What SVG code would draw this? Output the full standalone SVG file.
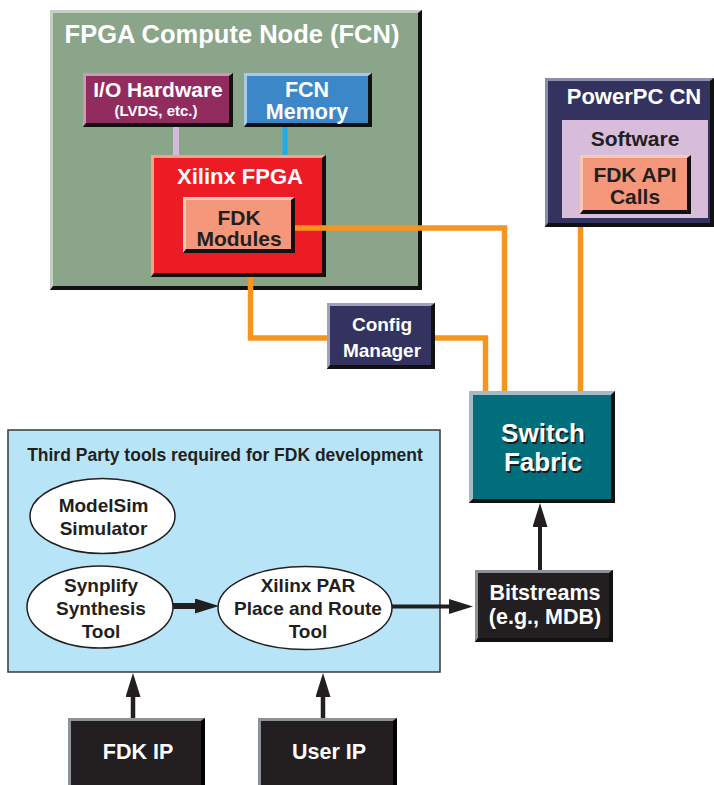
<svg xmlns="http://www.w3.org/2000/svg" width="714" height="785" viewBox="0 0 714 785">
<defs>
<style>
text{font-family:"Liberation Sans",Arial,Helvetica,sans-serif;font-weight:bold;text-anchor:middle}
.w{fill:#ffffff}
.k{fill:#231f20}
.dk{fill:#111111}
.or{fill:none;stroke:#f7941d;stroke-width:5.5}
.ar{fill:none;stroke:#231f20}
.ell{fill:#ffffff;stroke:#231f20;stroke-width:1.5}
</style>
<marker id="ah" markerUnits="userSpaceOnUse" viewBox="0 0 24 15" markerWidth="24" markerHeight="15" refX="0" refY="7.5" orient="auto">
<path d="M0,0 L24,7.5 L0,15 z" fill="#231f20"/>
</marker>
</defs>
<rect width="714" height="785" fill="#ffffff"/>

<g id="fcn">
<rect x="50" y="10" width="372" height="280" fill="#8aa58a"/>
<polygon points="50,10 422,10 418,13 53,13 53,286 50,290" fill="#c4d0c2"/>
<polygon class="dk" points="422,10 422,290 50,290 53,286 418,286 418,13"/>
<text x="232" y="43" class="w" font-size="25.5">FPGA Compute Node (FCN)</text>
</g>

<g id="io-hardware">
<rect x="83" y="73" width="150" height="54" fill="#922b5e"/>
<polygon points="83,73 233,73 229,76 86,76 86,123 83,127" fill="#c99ab2"/>
<polygon class="dk" points="233,73 233,127 83,127 86,123 229,123 229,76"/>
<text x="158" y="97" class="w" font-size="21">I/O Hardware</text>
<text x="156" y="116" class="w" font-size="15">(LVDS, etc.)</text>
</g>

<g id="fcn-memory">
<rect x="244" y="73" width="128" height="54" fill="#3b87c8"/>
<polygon points="244,73 372,73 368,76 247,76 247,123 244,127" fill="#a9c9e8"/>
<polygon class="dk" points="372,73 372,127 244,127 247,123 368,123 368,76"/>
<text x="307" y="97" class="w" font-size="21.5">FCN</text>
<text x="307" y="119" class="w" font-size="21.5">Memory</text>
</g>

<g id="xilinx-fpga">
<rect x="151" y="155" width="175" height="122" fill="#ed1c24"/>
<polygon points="151,155 326,155 322,158 154,158 154,273 151,277" fill="#f5a48c"/>
<polygon class="dk" points="326,155 326,277 151,277 154,273 322,273 322,158"/>
<text x="240" y="184" class="w" font-size="22">Xilinx FPGA</text>
</g>

<g id="fdk-modules">
<rect x="183" y="197" width="112" height="56" fill="#f4977a"/>
<polygon points="183,197 295,197 291,200 186,200 186,249 183,253" fill="#fac9b4"/>
<polygon class="dk" points="295,197 295,253 183,253 186,249 291,249 291,200"/>
<text x="239" y="225" class="k" font-size="21">FDK</text>
<text x="239" y="246" class="k" font-size="21">Modules</text>
</g>

<g id="powerpc-cn">
<rect x="545" y="78" width="169" height="149" fill="#34335f"/>
<polygon points="545,78 714,78 710,81 548,81 548,223 545,227" fill="#8e8cab"/>
<polygon class="dk" points="714,78 714,227 545,227 548,223 710,223 710,81"/>
<text x="634" y="104" class="w" font-size="22">PowerPC CN</text>
</g>

<g id="software">
<rect x="562" y="120" width="146" height="98" fill="#d8bddb"/>
<text x="635" y="146" class="k" font-size="21">Software</text>
</g>

<g id="fdk-api-calls">
<rect x="580" y="155" width="111" height="59" fill="#f4977a"/>
<polygon points="580,155 691,155 687,158 583,158 583,210 580,214" fill="#fac9b4"/>
<polygon class="dk" points="691,155 691,214 580,214 583,210 687,210 687,158"/>
<text x="635" y="182" class="k" font-size="21">FDK API</text>
<text x="635" y="204" class="k" font-size="21">Calls</text>
</g>

<g id="config-manager">
<rect x="327" y="303" width="108" height="66" fill="#34335f"/>
<polygon points="327,303 435,303 431,306 330,306 330,365 327,369" fill="#a49fb8"/>
<polygon class="dk" points="435,303 435,369 327,369 330,365 431,365 431,306"/>
<text x="382" y="331" class="w" font-size="19">Config</text>
<text x="382" y="357" class="w" font-size="19">Manager</text>
</g>

<g id="switch-fabric">
<rect x="469" y="391" width="146" height="112" fill="#016f7b"/>
<polygon points="469,391 615,391 611,395 473,395 473,499 469,503" fill="#a3b9c3"/>
<polygon class="dk" points="615,391 615,503 469,503 473,499 611,499 611,395"/>
<text x="544.5" y="443.5" fill="#1a1a1a" font-size="26">Switch</text>
<text x="544.5" y="472.5" fill="#1a1a1a" font-size="26">Fabric</text>
<text x="543" y="442" class="w" font-size="26">Switch</text>
<text x="543" y="471" class="w" font-size="26">Fabric</text>
</g>

<g id="third-party-tools">
<rect x="8" y="430" width="432" height="242" fill="#b8e4f8" stroke="#3a3a3a" stroke-width="1.5"/>
<text x="225" y="461" class="k" font-size="17.5">Third Party tools required for FDK development</text>
</g>

<g id="modelsim">
<ellipse cx="102.5" cy="516" rx="72.5" ry="37.5" class="ell"/>
<text x="103.5" y="512" class="k" font-size="19">ModelSim</text>
<text x="103.5" y="535" class="k" font-size="19">Simulator</text>
</g>

<g id="synplify">
<ellipse cx="100" cy="607" rx="73" ry="41" class="ell"/>
<text x="101" y="592" class="k" font-size="19">Synplify</text>
<text x="101" y="615" class="k" font-size="19">Synthesis</text>
<text x="101" y="638" class="k" font-size="19">Tool</text>
</g>

<g id="xilinx-par">
<ellipse cx="305" cy="608" rx="87" ry="41.5" class="ell"/>
<text x="308" y="592" class="k" font-size="19">Xilinx PAR</text>
<text x="308" y="615" class="k" font-size="19">Place and Route</text>
<text x="308" y="638" class="k" font-size="19">Tool</text>
</g>

<g id="bitstreams">
<rect x="475" y="570" width="138" height="72" fill="#231f20"/>
<polygon points="475,570 613,570 609,573 478,573 478,638 475,642" fill="#8c9298"/>
<polygon class="dk" points="613,570 613,642 475,642 478,638 609,638 609,573"/>
<text x="545" y="600" class="w" font-size="21.5">Bitstreams</text>
<text x="545" y="624" class="w" font-size="21.5">(e.g., MDB)</text>
</g>

<g id="fdk-ip">
<rect x="68" y="718" width="137" height="72" fill="#231f20"/>
<polygon points="68,718 205,718 201,721 71,721 71,790 68,790" fill="#8c9298"/>
<polygon fill="#000000" points="205,718 205,790 201,790 201,721"/>
<text x="138" y="759" class="w" font-size="21.5">FDK IP</text>
</g>

<g id="user-ip">
<rect x="258" y="718" width="139" height="72" fill="#231f20"/>
<polygon points="258,718 397,718 393,721 261,721 261,790 258,790" fill="#8c9298"/>
<polygon fill="#000000" points="397,718 397,790 393,790 393,721"/>
<text x="329" y="759" class="w" font-size="21.5">User IP</text>
</g>

<g id="connectors">
<line x1="176" y1="127" x2="176" y2="155" stroke="#d5b9da" stroke-width="6"/>
<line x1="285" y1="127" x2="285" y2="155" stroke="#1caeea" stroke-width="5"/>
<polyline class="or" points="295,228 504.5,228 504.5,391"/>
<polyline class="or" points="250.5,277 250.5,338 327,338"/>
<polyline class="or" points="435,338 485.5,338 485.5,391"/>
<polyline class="or" points="580.5,227 580.5,391"/>
<line class="ar" x1="173" y1="606" x2="195" y2="606" stroke-width="6" marker-end="url(#ah)"/>
<line class="ar" x1="392" y1="606.5" x2="449" y2="606.5" stroke-width="4" marker-end="url(#ah)"/>
<line class="ar" x1="540" y1="570" x2="540" y2="527" stroke-width="4" marker-end="url(#ah)"/>
<line class="ar" x1="133" y1="718" x2="133" y2="697" stroke-width="4.5" marker-end="url(#ah)"/>
<line class="ar" x1="323" y1="718" x2="323" y2="697" stroke-width="4.5" marker-end="url(#ah)"/>
</g>
</svg>
